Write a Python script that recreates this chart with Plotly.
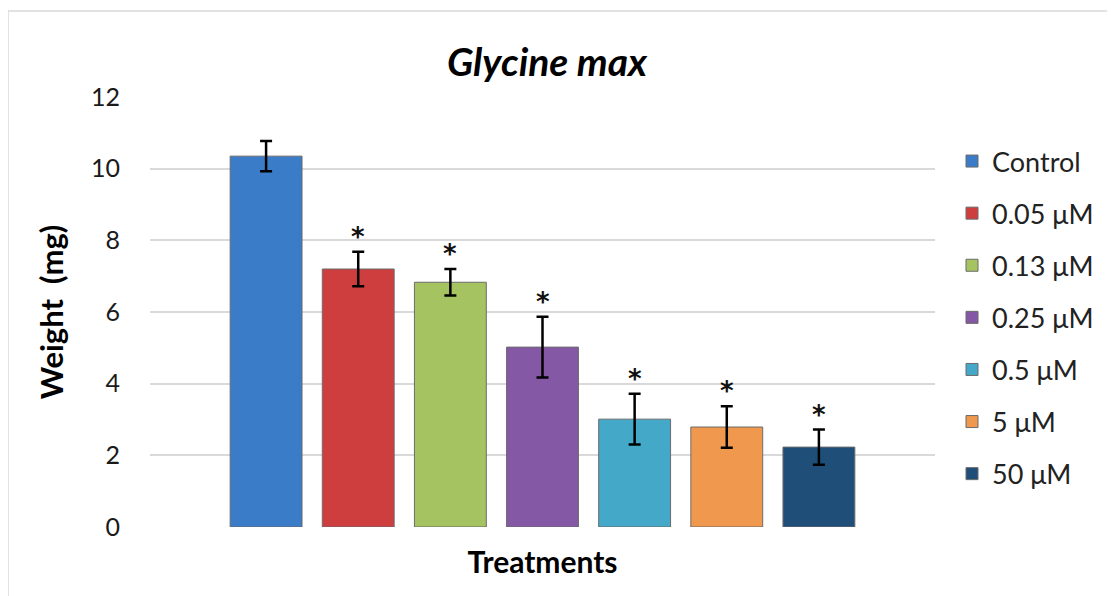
import plotly.graph_objects as go

categories = ["Control", "0.05 μM", "0.13 μM", "0.25 μM", "0.5 μM", "5 μM", "50 μM"]
values = [10.35, 7.2, 6.83, 5.02, 3.01, 2.79, 2.23]
errors = [0.42, 0.48, 0.37, 0.85, 0.71, 0.58, 0.49]
significant = [False, True, True, True, True, True, True]
colors = ["#3A7CC7", "#CF3E3E", "#A5C461", "#8458A4", "#44A8C8", "#F0984D", "#1F4E79"]
y_ticks = [0, 2, 4, 6, 8, 10, 12]

FONT = "Lato"
OX, OY = 8, 8  # page body margin
W, H = 1115 - OX, 596 - OY
PL, PR, PT, PB = 150, 935, 97, 527  # plot area in page pixels
L, R, T, B = PL - OX, W - (PR - OX), PT - OY, H - (PB - OY)
pw, ph = PR - PL, PB - PT

def px2paper_x(p):
    return (p - PL) / pw

def px2paper_y(p):
    return (PB - p) / ph

fig = go.Figure()
for i, (cat, v, e, c) in enumerate(zip(categories, values, errors, colors)):
    fig.add_trace(go.Bar(
        x=[i], y=[v], name=cat, width=0.78,
        marker=dict(color=c, line=dict(color="#6b6b6b", width=1)),
        error_y=dict(type="data", array=[e], visible=True, color="black",
                     thickness=2.5, width=6),
        legendgroup=cat,
    ))
    if significant[i]:
        fig.add_annotation(x=i, y=v + e, text="<b>*</b>", showarrow=False,
                           yanchor="bottom", yshift=-2,
                           font=dict(family="DejaVu Sans", size=26, color="#111"))

fig.add_shape(type="rect", xref="paper", yref="paper",
              x0=px2paper_x(8), x1=px2paper_x(1250),
              y0=px2paper_y(650), y1=px2paper_y(11),
              line=dict(color="#d9d9d9", width=1.5), fillcolor="rgba(0,0,0,0)")

fig.update_layout(
    width=W, height=H,
    margin=dict(l=L, r=R, t=T, b=B, pad=0),
    paper_bgcolor="white", plot_bgcolor="white",
    barmode="overlay",
    title=dict(text="<b><i>Glycine max</i></b>", x=px2paper_x(547), xref="paper",
               xanchor="center", y=1 - (62 - OY) / H, yanchor="middle",
               font=dict(family=FONT, size=39, color="black")),
    xaxis=dict(range=[-1.26, 7.26], showticklabels=False, showgrid=False,
               zeroline=False, showline=False, automargin=False,
               title=dict(text="<b>Treatments</b>", standoff=24,
                          font=dict(family=FONT, size=30, color="black"))),
    yaxis=dict(range=[0, 12], tickvals=y_ticks, showgrid=True,
               gridcolor="#d9d9d9", gridwidth=1.5, zeroline=False,
               showline=False, ticks="", ticklabelstandoff=29, automargin=False,
               tickfont=dict(family=FONT, size=25, color="#1a1a1a"),
               title=dict(text="<b>Weight&nbsp;&nbsp;(mg)</b>", standoff=18,
                          font=dict(family=FONT, size=31, color="black"))),
    legend=dict(x=px2paper_x(952), xanchor="left", y=px2paper_y(137),
                yanchor="top", tracegroupgap=14,
                font=dict(family=FONT, size=27, color="#222"),
                bgcolor="rgba(0,0,0,0)"),
    showlegend=True,
)

fig.write_html("out.html")
